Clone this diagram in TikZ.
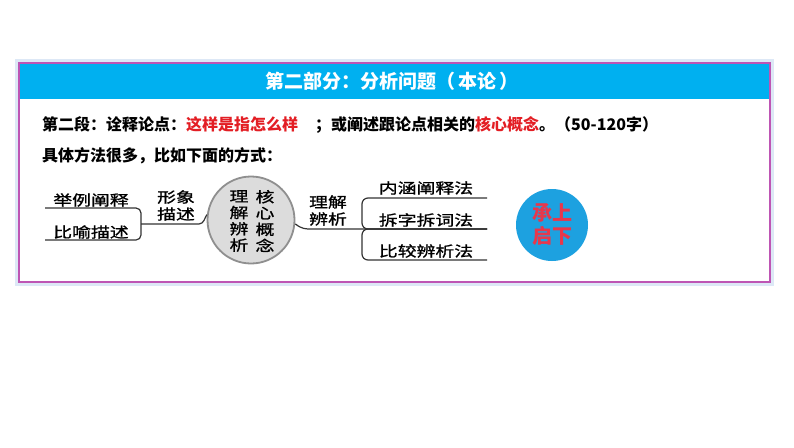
\documentclass[tikz,border=0pt]{standalone}
\usepackage{fontspec}
\setmainfont{Noto Sans CJK SC}
\newfontfamily\hei{Noto Sans CJK SC}
\newfontfamily\mmfont{Noto Sans CJK SC}[FakeStretch=1.3,FakeBold=1.2]
\definecolor{hdr}{HTML}{00B0F0}
\definecolor{framec}{HTML}{BE55B4}
\definecolor{glowc}{HTML}{DDE8F6}
\definecolor{hlred}{HTML}{E31E24}
\definecolor{csblue}{HTML}{1DA1E0}
\definecolor{csred}{HTML}{E8374B}
\definecolor{mmline}{HTML}{333333}
\definecolor{corefill}{HTML}{DCDCDC}
\definecolor{coreline}{HTML}{8F8F8F}
\begin{document}
\begin{tikzpicture}[x=1pt,y=-1pt,
  mmtext/.style={font=\mmfont\fontsize{14.5}{17}\selectfont, text=black, inner sep=0pt, align=center},
  mmline/.style={draw=mmline, line width=1.2pt},
  bodytext/.style={font=\hei\bfseries\fontsize{16}{16}\selectfont, anchor=west, inner sep=0pt}]
\useasboundingbox (0,0) rectangle (794,447);
\fill[white] (0,0) rectangle (794,447);
% frame
\draw[glowc, line width=3pt] (16.5,60.5) rectangle (772.5,284.5);
\fill[hdr] (19,63) rectangle (770,99);
\draw[framec, line width=2pt] (19,63) rectangle (770,282);
% title
\node[font=\hei\bfseries\fontsize{19}{19}\selectfont, text=white, inner sep=0pt] (title) at (392,81.5) {第二部分：分析问题（\hspace{3pt}本论\hspace{3pt}）};
% body text
\node[bodytext] (l1) at (42,125) {第二段：诠释论点：\textcolor{hlred}{这样是指怎么样}\hspace{17pt}；或阐述跟论点相关的\textcolor{hlred}{核心概念}。（50-120字）};
\node[bodytext] (l2) at (42,156) {具体方法很多，比如下面的方式：};
% mind map core
\node[circle, draw=coreline, line width=1.8pt, fill=corefill, minimum size=87pt, inner sep=0pt] (core) at (251,220) {};
\node[mmtext, font=\mmfont\fontsize{14.5}{16.3}\selectfont] (c1) at (239,221) {理\\解\\辨\\析};
\node[mmtext, font=\mmfont\fontsize{14.5}{16.3}\selectfont] (c2) at (265,221) {核\\心\\概\\念};
% left branch
\node[mmtext] (ju) at (91,200) {举例阐释};
\node[mmtext] (bi) at (91,232) {比喻描述};
\node[mmtext] (xx) at (176,205.5) {形象\\描述};
\coordinate (L1) at (45,208);
\coordinate (L2) at (45,240);
\coordinate (Lm) at (141,224);
\coordinate (Lc) at (199,224);
\draw[mmline, rounded corners=5pt] (L1) -| (Lm) |- (L2);
\draw[mmline] (Lm) -- (Lc) .. controls (204,224) and (205,217) .. (core.173);
% right branch
\node[mmtext] (lj) at (328,210.5) {理解\\辨析};
\node[mmtext] (nh) at (426,188) {内涵阐释法};
\node[mmtext] (cz) at (426,220) {拆字拆词法};
\node[mmtext] (bj) at (426,251) {比较辨析法};
\coordinate (Rm) at (362,229);
\coordinate (Rc) at (312,229);
\coordinate (R1) at (487,198);
\coordinate (R2) at (487,229);
\coordinate (R3) at (487,260);
\coordinate (Rv1) at (362,214);
\coordinate (Rv3) at (362,245);
\draw[mmline] (core.355) .. controls (302,229) and (305,229) .. (Rc) -- (Rm) -- (R2);
\draw[mmline, rounded corners=6pt] (R1) -| (Rv1) |- (R2);
\draw[mmline, rounded corners=6pt] (R3) -| (Rv3) |- (R2);
% transition circle
\node[circle, fill=csblue, minimum size=72pt, inner sep=0pt, font=\hei\bfseries\fontsize{20}{23}\selectfont, text=csred, align=center] (cs) at (552,225) {承上\\启下};
\end{tikzpicture}
\end{document}
